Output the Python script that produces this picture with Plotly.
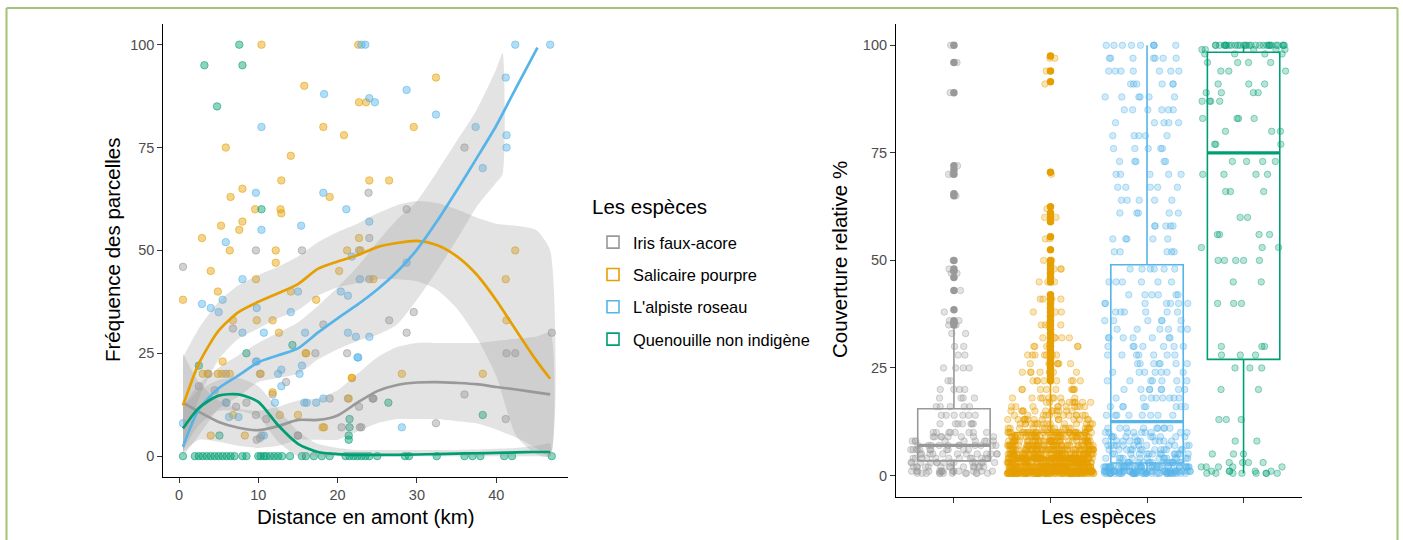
import numpy as np
import plotly.graph_objects as go

W, H = 1403, 540
FONT = "Liberation Sans, Arial, sans-serif"

species = ["Iris faux-acore", "Salicaire pourpre", "L'alpiste roseau", "Quenouille non indigène"]
colors = ["#999999", "#E69F00", "#56B4E9", "#009E73"]
rgb = [(153, 153, 153), (230, 159, 0), (86, 180, 233), (0, 158, 115)]

# ---------------- Left panel: points ----------------
iris_x = [0.5, 28.7, 23.9, 36, 24, 22.7, 9.7, 15.5, 24, 29.6, 26.5, 28.7, 47, 24.5, 21.2, 17.2, 41.3, 42.4, 18.2, 6.8,
          3.7, 5.9, 24.5, 36, 32.4, 41.2, 23, 22.7, 9.8, 10.4, 15, 9.7, 19, 10.2, 11, 20.5, 22.8, 24.4, 10.2, 15,
          21.3, 8.5, 7.2, 6, 4.5, 11.8, 13.5, 2.5]
iris_y = [46, 60, 64, 75, 53, 50, 50, 50, 43, 35, 33, 30, 30, 14, 25, 25, 25, 25, 32, 31,
          20, 20, 14, 15, 8, 9, 7, 12, 4, 5, 5, 10, 14, 20, 9, 7, 7, 14, 4.4, 5,
          14, 13, 12, 13, 16, 15, 18, 17]

sal_x = [10.4, 22.6, 15.8, 32.4, 5.9, 14.1, 18.2, 20.8, 29.6, 22.7, 23.6, 12.9, 26.5, 24, 6.5, 8, 19, 5.3, 8, 7.6,
         9.6, 12.8, 12.9, 2.9, 6.4, 12.2, 22.7, 21.2, 22.9, 42.4, 4, 12.2, 20.2, 24.5, 9.7, 41.2, 0.5, 4.9, 14.1, 17.3,
         6.8, 9.8, 11.8, 12.6, 41.3, 16, 5.5, 3, 4.9, 6.4, 10.3, 28.1, 38.3, 21.8, 11.8, 21.4, 15, 12.7, 18.3, 4,
         8.3, 6.8, 3.6, 5.4, 16, 21.8, 18.1]
sal_y = [100, 100, 90, 92, 75, 73, 80, 78, 80, 86, 86, 67, 67, 67, 63, 65, 63, 56, 57, 55,
         60, 60, 59, 53, 50, 50, 53, 50, 50, 50, 45, 47, 45, 43, 43, 43, 38, 40, 40, 38,
         33, 33, 33, 30, 33, 25, 23, 20, 20, 20, 20, 20, 20, 19, 15.5, 14, 10, 10, 7, 5,
         5, 10, 20, 20, 25, 19, 7]

alp_x = [23, 23.5, 42.4, 46.8, 41.2, 18.3, 28.7, 24, 24.7, 32.4, 10.4, 37.4, 41.3, 41.3, 38.3, 9.7, 18.2, 21.1, 24, 10.4,
         15.4, 5.9, 21.8, 28.7, 8, 22.8, 20.4, 21.3, 15, 2.9, 4, 5.5, 5, 14.1, 9.8, 8, 10.7, 15.9, 21.3, 22.3,
         24, 9.7, 12.9, 15.5, 22.6, 15.8, 17.3, 18.2, 12.9, 12.1, 28.1, 0.5, 5.9, 10.7, 9.8, 12.5, 15.2, 22.5, 16.1, 6.3,
         7.5]
alp_y = [100, 100, 100, 100, 92, 88, 89, 87, 86, 83, 80, 80, 78, 75, 70, 64, 64, 60, 57, 55,
         56, 52, 48.5, 47, 43, 43, 40, 39, 40, 37, 36, 38, 35, 35, 36, 30, 30, 30, 30, 29,
         29, 23, 21, 22, 24, 13, 13, 14, 17, 13, 7, 8, 13, 5, 23, 20, 20, 24, 13, 9.5,
         9.5]

que_x = [7.6, 3.2, 8.0, 4.8, 10.4, 8.5, 14.3, 26.4, 38.3, 21.5, 21.5, 21.4, 21.4, 5.1, 2.5,
         0.5, 2, 2.5, 3, 3.5, 4, 4.5, 5, 5.5, 6, 6.5, 7, 8, 8.5, 10, 10.3, 10.7, 11, 11.5, 12,
         12.5, 13, 14, 15.5, 16, 17, 18, 19, 21, 21.5, 22, 22.5, 23, 23.5, 24, 25, 28.5, 29, 32.5, 36,
         37, 38, 41, 42, 47]
que_y = [100, 95, 95, 85, 60, 25, 27, 13, 10, 9, 7, 5, 4, 5, 22,
         0, 0, 0, 0, 0, 0, 0, 0, 0, 0, 0, 0, 0, 0, 0, 0, 0, 0, 0, 0,
         0, 0, 0, 0, 0, 0, 0, 0, 0, 0, 0, 0, 0, 0, 0, 0, 0, 0, 0, 0,
         0, 0, 0, 0, 0]

# ---------------- Left panel: smooth curves and bands ----------------
fit_x = [0.5, 2.5, 5, 7.5, 10, 12.5, 15, 17.5, 20, 22.5, 25, 27.5, 30, 32.5, 35, 37.5, 40, 42.5, 45, 46.8]

iris_fit = [13, 10.8, 8.3, 6.9, 6.3, 7.3, 8.8, 8.8, 9.9, 13, 15.8, 17.3, 17.9, 18, 17.8, 17.5, 16.8, 16.2, 15.5, 15]
iris_hi = [25, 18, 13.5, 11.5, 11, 12, 13.5, 14, 16, 20, 24, 26.5, 27.5, 27.5, 27.5, 27.5, 28, 28.5, 29, 30]
iris_lo = [1, 4, 3.5, 2.5, 2, 2.5, 4, 4, 4, 6, 8, 9, 9, 9, 8.5, 8, 6.5, 4.5, 2, 0]

sal_fit = [12.3, 22.5, 30.5, 35, 37.5, 39.6, 41.8, 45.5, 47.3, 48.8, 50.8, 51.8, 52.3, 51.3, 48.6, 44.2, 37.9, 30.6, 23.4, 18.8]
sal_hi = [24, 31, 37.5, 41.5, 44, 46, 48.5, 52, 54.5, 56.5, 59, 61, 62, 61.5, 60, 58, 56.5, 56, 55, 50]
sal_lo = [1, 14, 23.5, 28.5, 31, 33.5, 35.5, 39, 41, 42, 43, 43, 42.5, 40.5, 36, 29, 19.5, 5, 0.5, 0]

alp_fit_x = [0.5, 2.5, 5, 7.5, 10, 12.5, 15, 17.5, 20, 22.5, 25, 27.5, 30, 32.5, 35, 37.5, 40, 42.5, 45.2]
alp_fit = [2.3, 11.3, 16.5, 19.6, 22.8, 24.5, 26.2, 30, 33.5, 36.8, 40.5, 44.8, 50.2, 57, 64.5, 72.3, 80.3, 89.5, 99.3]
alp_band_x = [0.5, 2.5, 5, 7.5, 10, 12.5, 15, 17.5, 20, 22.5, 25, 27.5, 30, 32.5, 35, 37.5, 40, 40.8]
alp_hi = [12, 17.5, 21.5, 24.5, 27.5, 30, 32.5, 36.5, 41, 46, 52, 57.5, 62, 69, 76.5, 84, 94, 98]
alp_lo = [0, 5, 11.5, 14.5, 18, 19, 20, 23.5, 26, 28, 29.5, 32, 38, 45, 52.5, 60.5, 66.5, 68.5]

que_fit = [6.7, 11.7, 14.7, 15, 13.2, 7.5, 3, 1, 0.5, 0.3, 0.3, 0.3, 0.4, 0.5, 0.6, 0.7, 0.8, 0.9, 1.0, 1.0]
que_hi = [12, 16, 18.5, 19, 17, 11.5, 6, 3, 2, 1.5, 1.5, 1.5, 1.5, 1.5, 1.5, 1.6, 1.8, 2, 2.5, 3]
que_lo = [1.5, 7.5, 11, 11, 9.5, 3.5, 0, 0, 0, 0, 0, 0, 0, 0, 0, 0, 0, 0, 0, 0]

# ---------------- Right panel: cover values (value, count) ----------------
iris_cov_v = [0.5, 1, 2, 3, 4, 5, 6, 7, 8, 9, 10, 12, 14, 16, 18, 20, 22, 25, 28, 30, 33, 35, 36, 38, 43, 47, 48, 50, 65, 70, 72, 89, 96, 100]
iris_cov_n = [12, 14, 14, 14, 12, 12, 11, 11, 9, 8, 8, 7, 6, 5, 4, 4, 2, 4, 2, 2, 2, 2, 2, 1, 1, 2, 1, 1, 1, 2, 1, 1, 1, 1]

sal_cov_v = [0.5, 1, 2, 3, 4, 5, 6, 7, 8, 9, 10, 11, 12, 13, 14, 15, 16, 17, 18, 20, 22, 24, 26, 28, 30, 32, 35, 38, 41, 45, 48, 50, 55, 60, 62, 70, 91, 94, 97]
sal_cov_n = [90, 100, 90, 75, 65, 60, 52, 45, 40, 36, 32, 18, 15, 14, 12, 12, 10, 9, 9, 9, 8, 8, 7, 7, 6, 5, 4, 3, 4, 3, 3, 2, 2, 2, 1, 1, 1, 1, 2]

alp_cov_v = [0.5, 1, 2, 3, 4, 5, 6, 7, 8, 9, 10, 11, 14, 16, 18, 20, 22, 24, 26, 28, 30, 32, 34, 36, 38, 40, 42, 45, 48,
             52, 55, 58, 61, 64, 67, 70, 73, 76, 79, 82, 85, 88, 91, 94, 97, 100]
alp_cov_n = [40, 35, 40, 17, 15, 14, 13, 12, 11, 10, 9, 9, 8, 8, 8, 8, 7, 7, 7, 7, 7, 7, 6, 6, 6, 7, 6, 6, 6,
             5, 5, 5, 5, 5, 5, 5, 5, 5, 5, 5, 6, 6, 6, 7, 7, 9]

que_cov_v = [0.5, 1, 2, 3, 5, 8, 13, 20, 25, 28, 30, 40, 45, 50, 53, 56, 60, 66, 70, 73, 77, 80, 83, 87, 89, 91, 94, 96, 98, 99, 100]
que_cov_n = [8, 5, 5, 4, 3, 2, 3, 2, 3, 3, 3, 3, 2, 5, 3, 4, 2, 3, 4, 4, 3, 3, 4, 4, 4, 3, 3, 4, 4, 5, 30]

# Box statistics (q1, median, q3, lower whisker, upper whisker)
box_q1 = [3.4, 1.5, 2.9, 27]
box_med = [7.0, 4.0, 12.5, 75]
box_q3 = [15.5, 10, 49, 98.4]
box_lo = [0, 0, 0, 0.5]
box_hi = [34.2, 21.5, 100, 100]

iris_out = [35, 35.5, 36, 38.5, 43, 46, 47.5, 48, 50, 65, 65.5, 70, 71, 72, 89, 96, 100]
sal_out = [22, 23, 24, 25, 26, 27, 28, 29, 30, 31, 32, 33, 34, 35, 36, 37, 38, 39, 40, 41, 42, 45, 46, 47, 48, 49, 50,
           52.5, 55.5, 59, 60, 61, 62.5, 70.5, 91.5, 94, 97.5]

# ------------------------------------------------------------
def rgba(i, a):
    r, g, b = rgb[i]
    return f"rgba({r},{g},{b},{a})"

fig = go.Figure()

left_pts = [(iris_x, iris_y), (sal_x, sal_y), (alp_x, alp_y), (que_x, que_y)]
for i, (xx, yy) in enumerate(left_pts):
    fig.add_trace(go.Scatter(x=xx, y=yy, mode="markers", xaxis="x", yaxis="y", showlegend=False,
                             marker=dict(size=7.5, color=rgba(i, 0.45), line=dict(width=1, color=rgba(i, 0.55))),
                             hoverinfo="skip"))

bands = [(fit_x, iris_hi, iris_lo), (fit_x, sal_hi, sal_lo), (alp_band_x, alp_hi, alp_lo), (fit_x, que_hi, que_lo)]
for bx, hi, lo in bands:
    fig.add_trace(go.Scatter(x=list(bx) + list(bx)[::-1], y=list(hi) + list(lo)[::-1], mode="lines",
                             fill="toself", fillcolor="rgba(153,153,153,0.28)",
                             line=dict(width=0, shape="spline", smoothing=0.6),
                             xaxis="x", yaxis="y", showlegend=False, hoverinfo="skip"))

fits = [(fit_x, iris_fit), (fit_x, sal_fit), (alp_fit_x, alp_fit), (fit_x, que_fit)]
for i, (fx, fy) in enumerate(fits):
    fig.add_trace(go.Scatter(x=fx, y=fy, mode="lines",
                             line=dict(color=colors[i], width=2.7, shape="spline", smoothing=0.7),
                             xaxis="x", yaxis="y", showlegend=False, hoverinfo="skip"))

# Right panel jittered points (plotly's own jitter)
covs = [(iris_cov_v, iris_cov_n), (sal_cov_v, sal_cov_n), (alp_cov_v, alp_cov_n), (que_cov_v, que_cov_n)]
for i, (v, n) in enumerate(covs):
    yy = np.repeat(v, n)
    fig.add_trace(go.Box(x=np.full(len(yy), i + 1), y=yy, boxpoints="all", jitter=1, pointpos=0, width=0.9,
                         fillcolor="rgba(0,0,0,0)", line=dict(width=0, color="rgba(0,0,0,0)"),
                         marker=dict(size=6.5, color=rgba(i, 0.28), line=dict(width=1, color=rgba(i, 0.4))),
                         xaxis="x2", yaxis="y2", showlegend=False, hoverinfo="skip"))

# Boxes (legend entries)
for i in range(4):
    fig.add_trace(go.Box(x=[i + 1], q1=[box_q1[i]], median=[box_med[i]], q3=[box_q3[i]],
                         lowerfence=[box_lo[i]], upperfence=[box_hi[i]], width=0.75, whiskerwidth=0,
                         boxpoints=False, fillcolor="rgba(255,255,255,0)",
                         line=dict(color=colors[i], width=1.6), name=species[i],
                         legendgroup=f"g{i}", showlegend=True, xaxis="x2", yaxis="y2"))
    fig.add_trace(go.Scatter(x=[i + 1 - 0.375, i + 1 + 0.375], y=[box_med[i], box_med[i]], mode="lines",
                             line=dict(color=colors[i], width=3.2), xaxis="x2", yaxis="y2",
                             showlegend=False, hoverinfo="skip"))

# Outliers
for i, outs in [(0, iris_out), (1, sal_out)]:
    fig.add_trace(go.Scatter(x=[i + 1] * len(outs), y=outs, mode="markers",
                             marker=dict(size=7.5, color=colors[i]), xaxis="x2", yaxis="y2",
                             showlegend=False, hoverinfo="skip"))

def px(xp):
    return xp / W

def py(yp):
    return 1 - yp / H

axis_common = dict(showline=True, linecolor="black", linewidth=1.1, ticks="outside", ticklen=5, tickwidth=1,
                   tickcolor="#333333", showgrid=False, zeroline=False,
                   tickfont=dict(family=FONT, size=14.5, color="#4D4D4D"))

title_font = dict(family=FONT, size=20.5, color="black")

fig.update_layout(
    width=W, height=H, autosize=False,
    margin=dict(l=0, r=0, t=0, b=0),
    paper_bgcolor="white", plot_bgcolor="white",
    boxmode="overlay",
    font=dict(family=FONT),
    xaxis=dict(domain=[px(163.3), px(568)], range=[-1.98, 49.05], tickvals=[0, 10, 20, 30, 40],
               anchor="y", **axis_common),
    yaxis=dict(domain=[py(476.7), py(24.1)], range=[-5, 105], tickvals=[0, 25, 50, 75, 100],
               anchor="x", **axis_common),
    xaxis2=dict(domain=[px(896), px(1301.5)], range=[0.4, 4.6], tickvals=[1, 2, 3, 4],
                ticktext=["", "", "", ""], anchor="y2", **axis_common),
    yaxis2=dict(domain=[py(497), py(23.8)], range=[-5, 105], tickvals=[0, 25, 50, 75, 100],
                anchor="x2", **axis_common),
    legend=dict(x=px(593), y=py(225), xanchor="left", yanchor="top",
                font=dict(family=FONT, size=16.4, color="black"),
                tracegroupgap=8, bgcolor="rgba(0,0,0,0)"),
    annotations=[
        dict(text="Fréquence des parcelles", x=px(112), y=py(250), xref="paper", yref="paper",
             xanchor="center", yanchor="middle", textangle=-90, showarrow=False, font=title_font),
        dict(text="Distance en amont (km)", x=px(366), y=py(516), xref="paper", yref="paper",
             xanchor="center", yanchor="middle", showarrow=False, font=title_font),
        dict(text="Couverture relative %", x=px(840), y=py(260), xref="paper", yref="paper",
             xanchor="center", yanchor="middle", textangle=-90, showarrow=False, font=title_font),
        dict(text="Les espèces", x=px(1098), y=py(516), xref="paper", yref="paper",
             xanchor="center", yanchor="middle", showarrow=False, font=title_font),
        dict(text="Les espèces", x=px(590), y=py(207), xref="paper", yref="paper",
             xanchor="left", yanchor="middle", showarrow=False, font=title_font),
    ],
    shapes=[
        dict(type="line", xref="paper", yref="paper", x0=px(6.5), x1=px(6.5), y0=py(560), y1=py(8),
             line=dict(color="#A3C177", width=2)),
        dict(type="line", xref="paper", yref="paper", x0=px(6.5), x1=px(1397.5), y0=py(8), y1=py(8),
             line=dict(color="#A3C177", width=2)),
        dict(type="line", xref="paper", yref="paper", x0=px(1397.5), x1=px(1397.5), y0=py(560), y1=py(8),
             line=dict(color="#A3C177", width=2)),
    ],
)

fig.write_html("out.html", config={"displayModeBar": False},
               post_script="document.body.style.margin='0';document.body.style.overflow='hidden';")
